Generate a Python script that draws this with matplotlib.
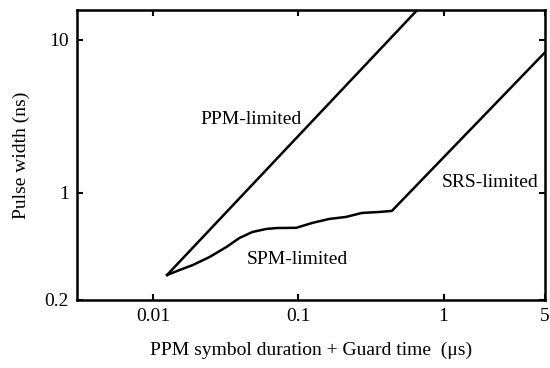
import matplotlib
matplotlib.use("Agg")
import matplotlib.pyplot as plt
from matplotlib.ticker import FixedLocator, NullLocator

plt.rcParams['font.family'] = ['Liberation Serif', 'DejaVu Serif']

# symbol duration + guard time (us) vs pulse width (ns)
ppm_x = [0.0125, 0.66]
ppm_y = [0.291, 15.7]

spm_x = [0.0125, 0.0153, 0.0188, 0.0246, 0.0321, 0.0394, 0.0484, 0.0604,
         0.0718, 0.0969, 0.125, 0.163, 0.213, 0.274, 0.359, 0.441]
spm_y = [0.291, 0.314, 0.338, 0.382, 0.444, 0.508, 0.556, 0.582,
         0.590, 0.592, 0.637, 0.676, 0.697, 0.740, 0.751, 0.763]

srs_x = [0.441, 5.0]
srs_y = [0.763, 8.3]

x_ticks = [0.01, 0.1, 1, 5]
x_labels = ["0.01", "0.1", "1", "5"]
y_ticks = [0.2, 1, 10]
y_labels = ["0.2", "1", "10"]

fig = plt.figure(figsize=(5.5, 3.68), dpi=100)
ax = fig.add_axes([0.14, 0.185, 0.851, 0.788])

ax.plot(ppm_x, ppm_y, color="black", lw=1.8)
ax.plot(spm_x + srs_x[1:], spm_y + srs_y[1:], color="black", lw=1.8)

ax.set_xscale("log")
ax.set_yscale("log")
ax.set_xlim(0.003, 5)
ax.set_ylim(0.2, 15.7)

ax.xaxis.set_major_locator(FixedLocator(x_ticks))
ax.xaxis.set_minor_locator(NullLocator())
ax.set_xticklabels(x_labels)
ax.yaxis.set_major_locator(FixedLocator(y_ticks))
ax.yaxis.set_minor_locator(NullLocator())
ax.set_yticklabels(y_labels)

ax.tick_params(direction="in", length=4, width=1.5, top=True, right=True,
               labelsize=14, pad=6)
for s in ax.spines.values():
    s.set_linewidth(1.8)

ax.text(0.047, 3.0, "PPM-limited", fontsize=14, ha="center", va="center")
ax.text(0.099, 0.37, "SPM-limited", fontsize=14, ha="center", va="center")
ax.text(2.1, 1.17, "SRS-limited", fontsize=14, ha="center", va="center")

ax.set_xlabel("PPM symbol duration + Guard time  (μs)", fontsize=14, labelpad=12)
ax.set_ylabel("Pulse width (ns)", fontsize=14, labelpad=10)

fig.savefig("out.png", dpi=100)
